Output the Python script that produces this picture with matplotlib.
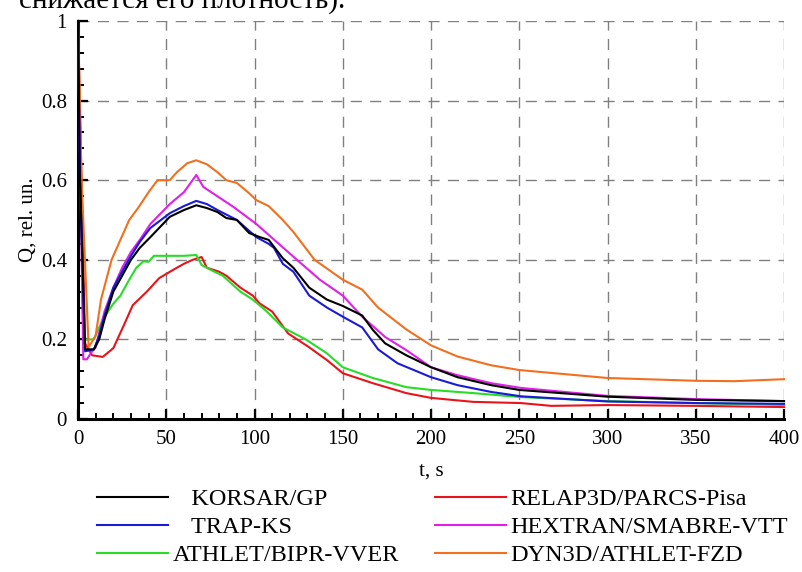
import matplotlib
matplotlib.use("Agg")
import matplotlib.pyplot as plt
from matplotlib.ticker import MultipleLocator

plt.rcParams["font.family"] = ["Liberation Serif", "DejaVu Serif"]

# curves (t in s, Q in rel. un.)
black_t = [0, 1, 4, 9, 12, 15, 20, 25, 30, 35, 41, 52, 60, 67, 73, 79, 84, 90, 97, 103,
           108, 116, 122, 131, 141, 150, 161, 167, 174, 186, 200, 215, 234, 250, 300, 350, 400]
black_q = [1.0, 0.62, 0.175, 0.175, 0.2, 0.25, 0.32, 0.36, 0.4, 0.43, 0.457, 0.508, 0.525, 0.537,
           0.53, 0.52, 0.505, 0.5, 0.467, 0.457, 0.45, 0.404, 0.38, 0.33, 0.30, 0.284, 0.26, 0.224,
           0.19, 0.16, 0.13, 0.105, 0.085, 0.073, 0.056, 0.048, 0.045]

blue_t = [0, 1, 4, 9, 12, 15, 20, 25, 30, 35, 41, 52, 60, 67, 73, 79, 90, 101, 108, 111, 116,
          122, 131, 141, 150, 161, 170, 181, 200, 215, 234, 251, 300, 350, 400]
blue_q = [1.0, 0.62, 0.17, 0.175, 0.21, 0.26, 0.33, 0.37, 0.41, 0.445, 0.48, 0.517, 0.535, 0.548,
          0.54, 0.525, 0.5, 0.457, 0.44, 0.43, 0.39, 0.37, 0.31, 0.28, 0.257, 0.23, 0.175, 0.14,
          0.105, 0.085, 0.068, 0.057, 0.044, 0.04, 0.038]

green_t = [0, 3, 9, 14, 20, 24, 29, 33, 37, 40, 43, 47, 60, 67, 70, 75, 82, 92, 99, 107, 116,
           129, 141, 150, 167, 186, 200, 224, 251, 300, 350, 400]
green_q = [1.0, 0.2, 0.2, 0.25, 0.29, 0.31, 0.35, 0.38, 0.396, 0.395, 0.41, 0.41, 0.41, 0.412,
           0.387, 0.375, 0.36, 0.32, 0.30, 0.27, 0.23, 0.2, 0.165, 0.13, 0.103, 0.08, 0.073, 0.065,
           0.055, 0.045, 0.04, 0.035]

red_t = [0, 4, 8, 14, 20, 26, 31, 39, 46, 54, 60, 65, 70, 73, 80, 84, 92, 99, 103, 110, 119,
         131, 141, 150, 167, 186, 200, 224, 251, 268, 300, 350, 400]
red_q = [1.0, 0.19, 0.16, 0.156, 0.178, 0.236, 0.286, 0.32, 0.354, 0.375, 0.39, 0.40, 0.407,
         0.38, 0.37, 0.36, 0.33, 0.31, 0.29, 0.27, 0.215, 0.18, 0.148, 0.115, 0.09, 0.065, 0.053,
         0.043, 0.04, 0.033, 0.035, 0.033, 0.03]

magenta_t = [0, 3, 5, 8, 10, 15, 20, 25, 30, 35, 41, 52, 60, 67, 71, 88, 101, 124, 137, 150,
             161, 174, 186, 200, 215, 234, 251, 300, 350, 400]
magenta_q = [0.95, 0.15, 0.15, 0.17, 0.18, 0.27, 0.33, 0.38, 0.42, 0.45, 0.49, 0.54, 0.57, 0.613,
             0.583, 0.533, 0.49, 0.40, 0.35, 0.31, 0.257, 0.206, 0.173, 0.13, 0.11, 0.09, 0.078,
             0.058, 0.05, 0.045]

orange_t = [0, 2, 6, 10, 13, 16, 19, 24, 29, 34, 40, 45, 52, 56, 62, 67, 73, 79, 84, 90, 97, 101,
            108, 116, 122, 134, 150, 161, 170, 186, 200, 215, 234, 250, 300, 350, 372, 400]
orange_q = [1.0, 0.6, 0.18, 0.21, 0.3, 0.35, 0.4, 0.45, 0.5, 0.53, 0.57, 0.6, 0.6, 0.62, 0.643,
            0.65, 0.64, 0.62, 0.6, 0.593, 0.567, 0.55, 0.535, 0.5, 0.47, 0.40, 0.35, 0.325, 0.28,
            0.225, 0.185, 0.157, 0.135, 0.123, 0.103, 0.096, 0.095, 0.10]

series = [
    ("   KORSAR/GP", black_t, black_q, "#000000"),
    ("RELAP3D/PARCS-Pisa", red_t, red_q, "#e8141c"),
    ("   TRAP-KS", blue_t, blue_q, "#1a1ad8"),
    ("HEXTRAN/SMABRE-VTT", magenta_t, magenta_q, "#e020e8"),
    ("ATHLET/BIPR-VVER", green_t, green_q, "#28dc28"),
    ("DYN3D/ATHLET-FZD", orange_t, orange_q, "#f07020"),
]
zorders = {"#000000": 6, "#1a1ad8": 5, "#e020e8": 4, "#f07020": 3, "#28dc28": 2, "#e8141c": 1}

fig = plt.figure(figsize=(8.02, 5.72), dpi=100)
ax = fig.add_axes([0.0973, 0.2675, 0.8803, 0.6958])

handles = {}
for name, t, q, c in series:
    ln, = ax.plot(t, q, color=c, lw=1.5, zorder=zorders[c], clip_on=False)
    handles[name] = ln

ax.set_xlim(0, 400)
ax.set_ylim(0, 1)
ax.xaxis.set_major_locator(MultipleLocator(50))
ax.xaxis.set_minor_locator(MultipleLocator(10))
ax.yaxis.set_major_locator(MultipleLocator(0.2))
ax.yaxis.set_minor_locator(MultipleLocator(0.04))
ax.set_yticks([0, 0.2, 0.4, 0.6, 0.8, 1.0])
ax.set_yticklabels(["0", "0.2", "0.4", "0.6", "0.8", "1"])
ax.grid(True, which="major", color="0.5", ls=(0, (8, 6)), lw=1.0)
ax.set_axisbelow(True)

for s in ("top", "right"):
    ax.spines[s].set_visible(False)
for s in ("left", "bottom"):
    ax.spines[s].set_linewidth(2.2)
ax.tick_params(which="major", direction="in", length=7, width=1.6, labelsize=15,
               top=False, right=False, pad=8)
ax.tick_params(which="minor", direction="in", length=4, width=1.4, top=False, right=False)

ax.set_xlabel("t, s", fontsize=15, labelpad=9)
ax.set_ylabel("Q, rel. un.", fontsize=15, labelpad=2)

order = ["   KORSAR/GP", "   TRAP-KS", "ATHLET/BIPR-VVER",
         "RELAP3D/PARCS-Pisa", "HEXTRAN/SMABRE-VTT", "DYN3D/ATHLET-FZD"]
fig.legend([handles[k] for k in order], order, ncol=2, loc="upper left",
           bbox_to_anchor=(0.106, 0.168), frameon=False, fontsize=17.5,
           handlelength=2.9, handletextpad=0.2, columnspacing=1.5,
           labelspacing=0.25, borderpad=0.0)

# cut-off line of the surrounding document text
fig.text(345 / 802, 1 - 8 / 572, "снижается его плотность).", ha="right",
         va="baseline", fontsize=21)

fig.savefig("out.png", dpi=100)
